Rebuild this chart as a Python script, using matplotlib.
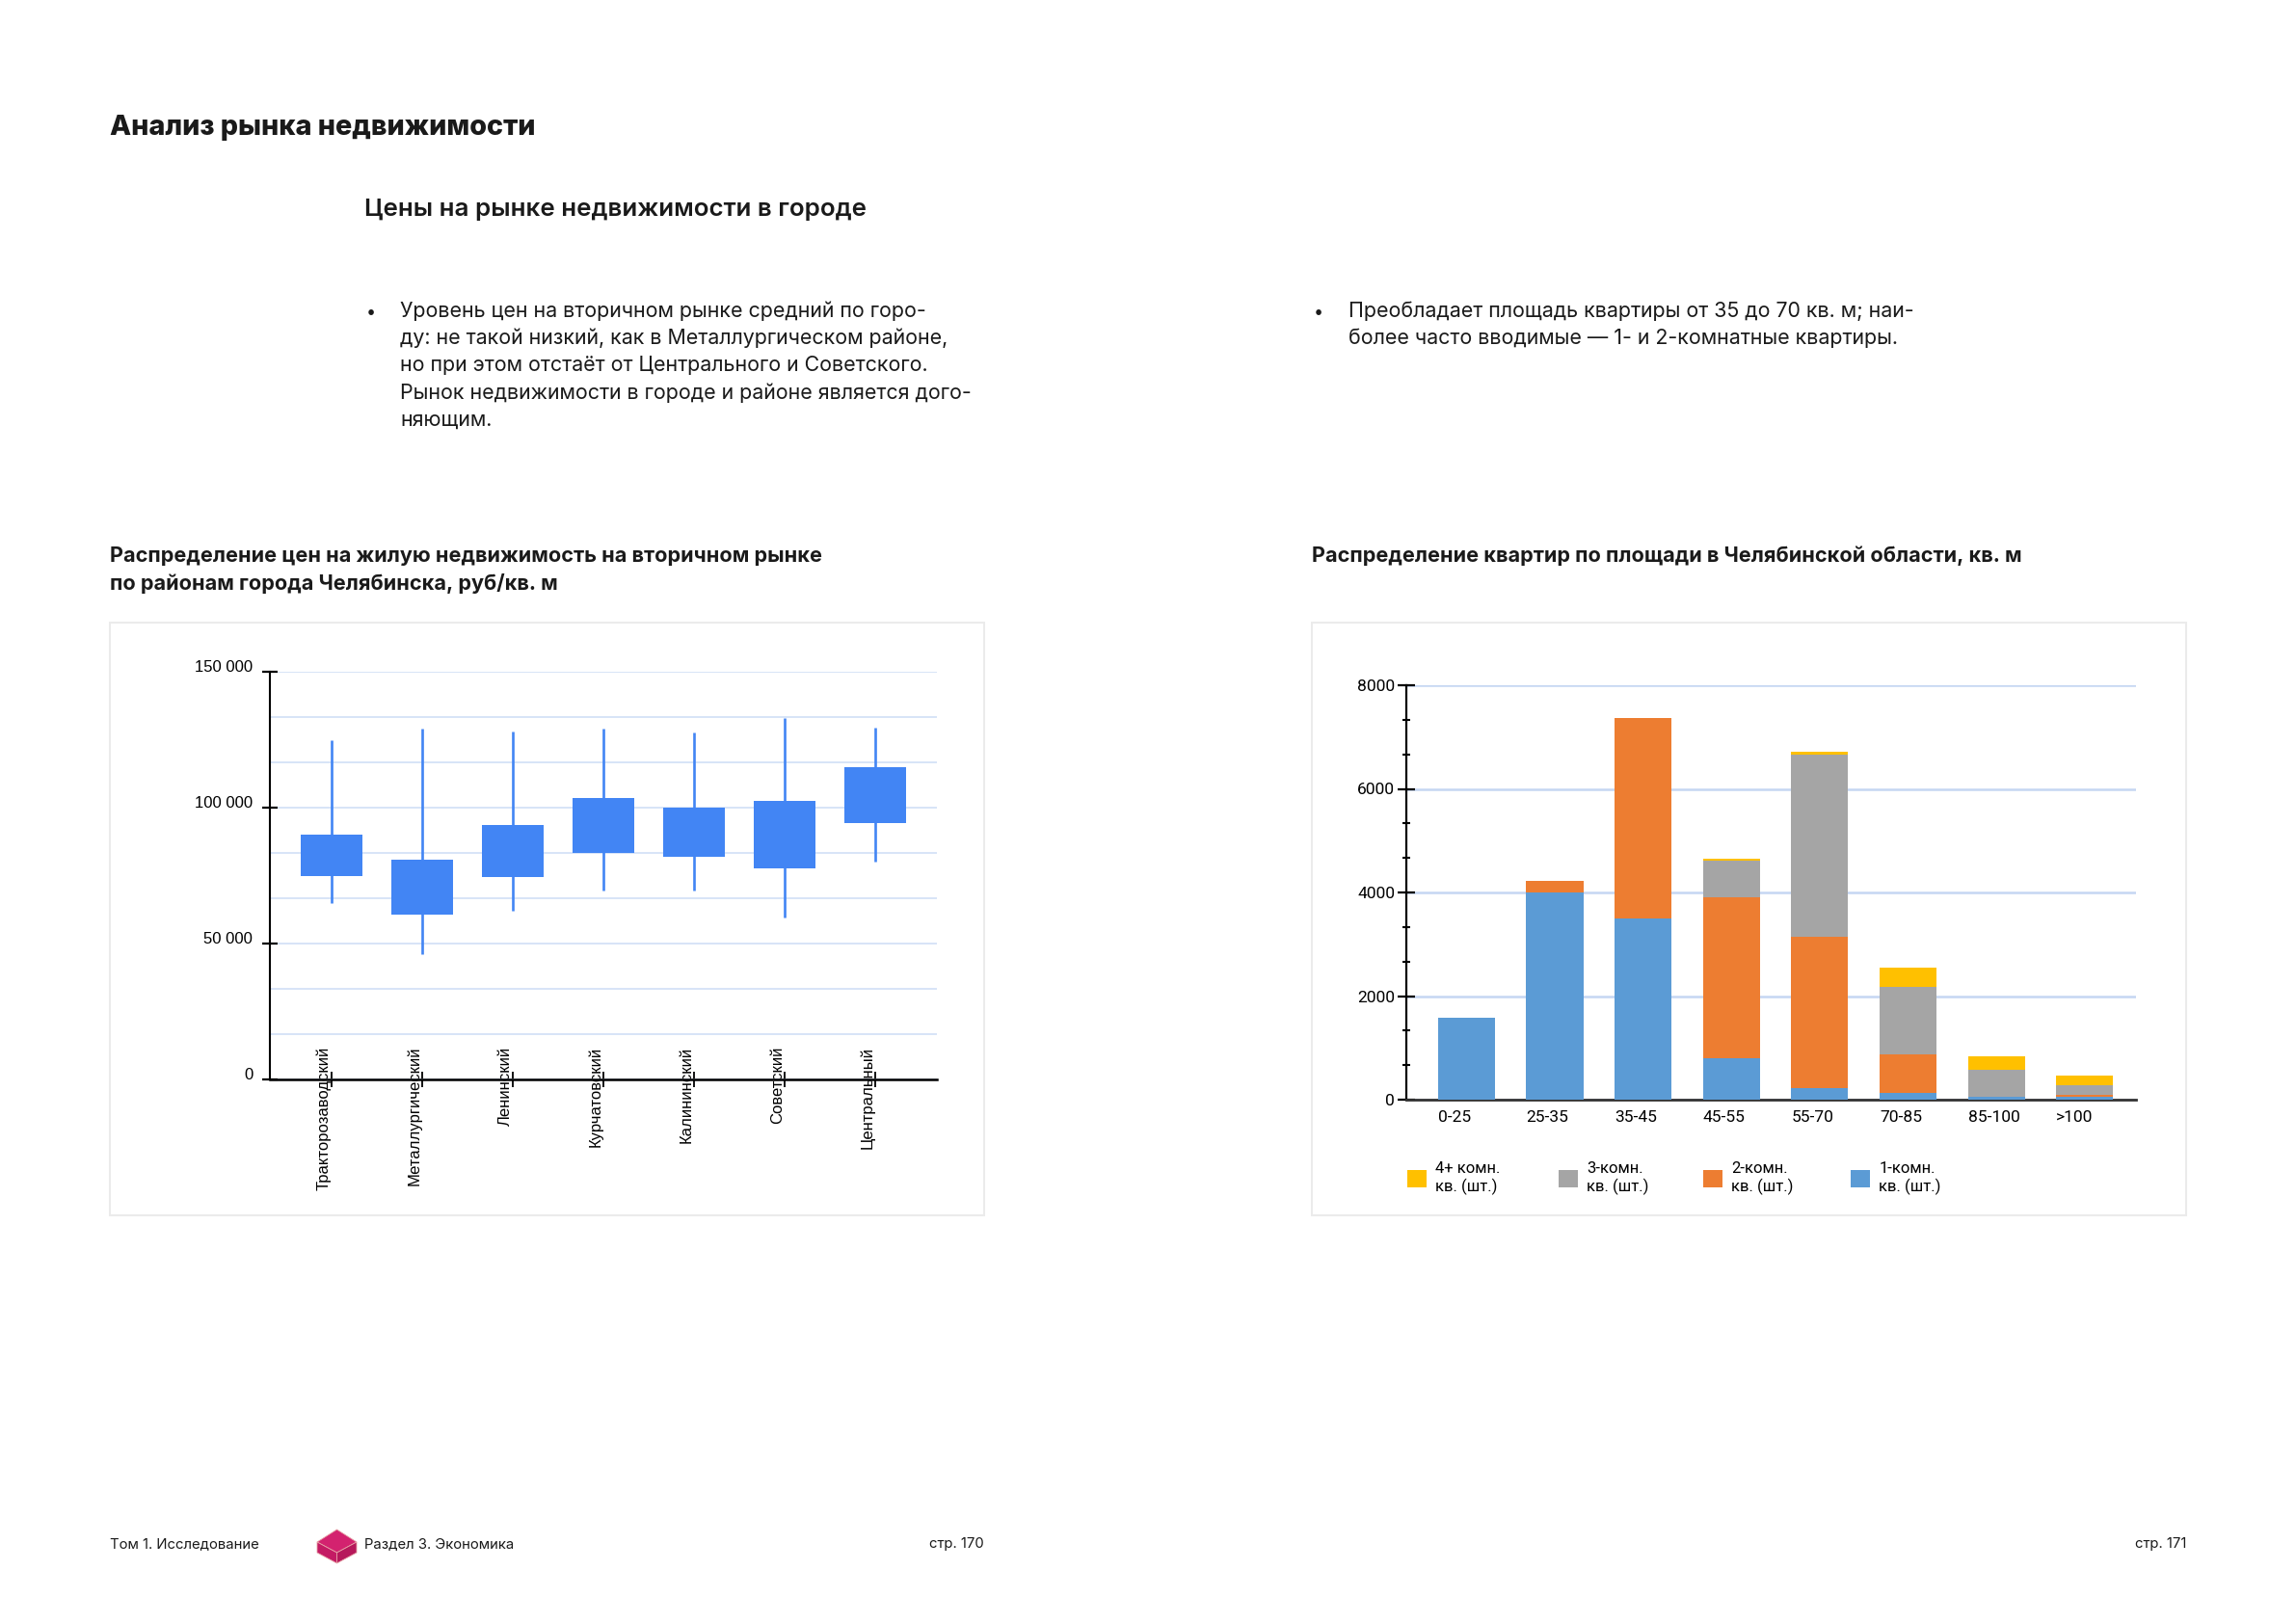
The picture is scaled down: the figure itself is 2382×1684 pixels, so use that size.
import matplotlib.pyplot as plt
import matplotlib.patches as mpatches
from matplotlib.legend import Legend
from matplotlib.ticker import FuncFormatter, MultipleLocator
import numpy as np

W, H = 2382, 1684

# --- data: price distribution by district (rub / sq. m) ---
districts = ['Тракторозаводский', 'Металлургический', 'Ленинский', 'Курчатовский',
             'Калининский', 'Советский', 'Центральный']
price_low = [65000, 46000, 62000, 69500, 69500, 59500, 80000]
price_q1 = [75000, 60500, 74500, 83500, 82000, 77500, 94500]
price_q3 = [90000, 81000, 93500, 103500, 100000, 102500, 115000]
price_high = [125000, 129000, 128000, 129000, 127500, 133000, 129500]

# --- data: flats by area ---
area_bins = ['0-25', '25-35', '35-45', '45-55', '55-70', '70-85', '85-100', '>100']
rooms_1 = [1580, 4000, 3490, 800, 215, 130, 55, 50]
rooms_2 = [0, 230, 3885, 3100, 2920, 750, 0, 40]
rooms_3 = [0, 0, 0, 720, 3520, 1290, 515, 183]
rooms_4 = [0, 0, 0, 30, 70, 375, 260, 183]
room_labels = ['1-комн.\nкв. (шт.)', '2-комн.\nкв. (шт.)', '3-комн.\nкв. (шт.)', '4+ комн.\nкв. (шт.)']
room_colors = ['#5B9BD5', '#ED7D31', '#A5A5A5', '#FFC000']

PAGE_FONT = ['Inter', 'DejaVu Sans']
ARIAL = ['Liberation Sans', 'DejaVu Sans']
CHART_FONT = ['Roboto', 'DejaVu Sans']
TXT = '#1a1a1a'


def fx(px):
    return px / W


def fy(py):
    return 1 - py / H


fig = plt.figure(figsize=(W / 100, H / 100), dpi=100)

# page texts
fig.text(fx(114), fy(140), 'Анализ рынка недвижимости', family=PAGE_FONT,
         fontsize=20.7, weight='heavy', color=TXT)
fig.text(fx(378), fy(224), 'Цены на рынке недвижимости в городе', family=PAGE_FONT,
         fontsize=18.7, weight='semibold', color=TXT)

left_lines = ['Уровень цен на вторичном рынке средний по горо-',
              'ду: не такой низкий, как в Металлургическом районе,',
              'но при этом отстаёт от Центрального и Советского.',
              'Рынок недвижимости в городе и районе является дого-',
              'няющим.']
right_lines = ['Преобладает площадь квартиры от 35 до 70 кв. м; наи-',
               'более часто вводимые — 1- и 2-комнатные квартиры.']
for x_b, x_t, lines in [(380, 415, left_lines), (1363, 1399, right_lines)]:
    fig.text(fx(x_b), fy(329), '•', family=PAGE_FONT, fontsize=13, color=TXT)
    for i, line in enumerate(lines):
        fig.text(fx(x_t), fy(329 + i * 28.2), line, family=PAGE_FONT,
                 fontsize=15.4, color=TXT)

fig.text(fx(114), fy(583), 'Распределение цен на жилую недвижимость на вторичном рынке',
         family=PAGE_FONT, fontsize=15.6, weight='bold', color=TXT)
fig.text(fx(114), fy(612), 'по районам города Челябинска, руб/кв. м',
         family=PAGE_FONT, fontsize=15.6, weight='bold', color=TXT)
fig.text(fx(1361), fy(583), 'Распределение квартир по площади в Челябинской области, кв. м',
         family=PAGE_FONT, fontsize=15.6, weight='bold', color=TXT)

# chart frames
for x0 in (114, 1361):
    fig.patches.append(mpatches.Rectangle((fx(x0), fy(1261)), 907 / W, (1261 - 646) / H,
                                          transform=fig.transFigure, fill=False,
                                          ec='#ebebeb', lw=1.5))

# footer
fig.text(fx(114), fy(1606), 'Том 1. Исследование', family=PAGE_FONT, fontsize=10.7, color=TXT)
fig.text(fx(378), fy(1606), 'Раздел 3. Экономика', family=PAGE_FONT, fontsize=10.7, color=TXT)
fig.text(fx(1021), fy(1606), 'стр. 170', family=PAGE_FONT, fontsize=10.7, color=TXT, ha='right')
fig.text(fx(2268), fy(1606), 'стр. 171', family=PAGE_FONT, fontsize=10.7, color=TXT, ha='right')
cube = {
    '#d3226f': [(329, 1600), (349.5, 1587), (370, 1600), (349.5, 1611)],
    '#c41b64': [(329, 1600), (349.5, 1611), (349.5, 1622), (329, 1611)],
    '#b6185b': [(349.5, 1611), (370, 1600), (370, 1611), (349.5, 1622)],
}
for col, pts in cube.items():
    fig.patches.append(mpatches.Polygon([(fx(a), fy(b)) for a, b in pts],
                                        transform=fig.transFigure, fc=col, ec='#e7a2a6', lw=0.6))

# ---------------- left chart: price ranges ----------------
ax1 = fig.add_axes([fx(280), fy(1120), 692 / W, (1120 - 697) / H])
xpos = np.arange(len(districts))
ax1.vlines(xpos, price_low, price_high, color='#4285F4', lw=1.9, zorder=2)
ax1.bar(xpos, np.array(price_q3) - np.array(price_q1), bottom=price_q1, width=0.68,
        color='#4285F4', zorder=3)
ax1.set_xlim(-0.678, 6.684)
ax1.set_ylim(0, 150000)
ax1.set_yticks([0, 50000, 100000, 150000])
ax1.set_yticks(np.arange(0, 150001, 50000 / 3), minor=True)
ax1.yaxis.set_major_formatter(FuncFormatter(lambda v, p: f'{int(v):,}'.replace(',', ' ')))
ax1.set_axisbelow(True)
ax1.yaxis.grid(True, which='both', color='#cddcf5', lw=1.1)
ax1.set_xticks(xpos, districts)
for lbl in ax1.get_xticklabels():
    lbl.set_rotation(90)
    lbl.set_ha('right')
    lbl.set_family(ARIAL)
    lbl.set_fontsize(12)
for lbl in ax1.get_yticklabels():
    lbl.set_family(ARIAL)
    lbl.set_fontsize(12)
    lbl.set_va('baseline')
ax1.tick_params(axis='x', direction='inout', length=11, width=1.3, pad=-30, colors='black')
ax1.tick_params(axis='y', which='major', direction='inout', length=11.5, width=1.6, pad=7)
ax1.tick_params(axis='y', which='minor', length=0)
for s in ('top', 'right'):
    ax1.spines[s].set_visible(False)
ax1.spines['left'].set_linewidth(1.5)
ax1.spines['bottom'].set_linewidth(1.8)

# ---------------- right chart: stacked bars ----------------
ax2 = fig.add_axes([fx(1459), fy(1141), (2216 - 1459) / W, (1141 - 711) / H])
bpos = np.arange(len(area_bins))
bar_w = 0.645
bottom = np.zeros(len(area_bins))
handles = []
for vals, col in zip([rooms_1, rooms_2, rooms_3, rooms_4], room_colors):
    b = ax2.bar(bpos, vals, bottom=bottom, width=bar_w, color=col, zorder=3)
    handles.append(b)
    bottom += np.array(vals)
ax2.set_xlim(-0.68, 7.58)
ax2.set_ylim(0, 8000)
ax2.set_yticks([0, 2000, 4000, 6000, 8000])
ax2.yaxis.set_minor_locator(MultipleLocator(2000 / 3))
ax2.set_axisbelow(True)
ax2.yaxis.grid(True, which='major', color='#c5d6f2', lw=1.8)
# category labels sit left-aligned under the bar's left edge
ax2.set_xticks(bpos - bar_w / 2, area_bins)
for lbl in ax2.get_xticklabels():
    lbl.set_ha('left')
for lbl in ax2.get_xticklabels() + ax2.get_yticklabels():
    lbl.set_family(CHART_FONT)
    lbl.set_fontsize(12.5)
ax2.tick_params(axis='x', length=0, pad=8)
ax2.tick_params(axis='y', which='major', direction='inout', length=13, width=1.6, pad=2)
ax2.tick_params(axis='y', which='minor', direction='inout', length=6, width=1.5)
for s in ('top', 'right'):
    ax2.spines[s].set_visible(False)
ax2.spines['left'].set_linewidth(1.6)
ax2.spines['bottom'].set_linewidth(2)
ax2.spines['bottom'].set_color('#333333')

# legend: one entry per block, placed as in the source layout
order = [3, 2, 1, 0]
legend_x = [1460, 1617, 1767, 1920]
for i, lx in zip(order, legend_x):
    lg = Legend(ax2, [handles[i]], [room_labels[i]], loc='upper left',
                bbox_to_anchor=(fx(lx), fy(1205)), bbox_transform=fig.transFigure,
                frameon=False, prop={'family': CHART_FONT, 'size': 12}, handlelength=1.2,
                handleheight=1.25, handletextpad=0.55, borderaxespad=0, borderpad=0)
    ax2.add_artist(lg)

fig.savefig('out.png', dpi=100, facecolor='white')
